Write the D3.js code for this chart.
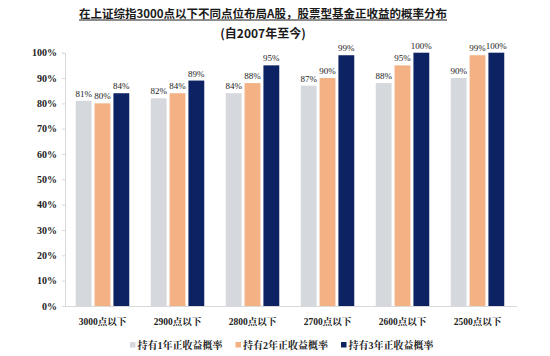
<!DOCTYPE html>
<html><head><meta charset="utf-8">
<script src="https://cdn.jsdelivr.net/npm/d3@7"></script>
<style>
html,body{margin:0;padding:0;background:#fff;}
svg{display:block;}
</style>
</head><body>
<svg id="chart" width="550" height="356"></svg>
<script>
const categories = ["3000点以下","2900点以下","2800点以下","2700点以下","2600点以下","2500点以下"];
const seriesNames = ["持有1年正收益概率","持有2年正收益概率","持有3年正收益概率"];
const hold1 = [81, 82, 84, 87, 88, 90];
const hold2 = [80, 84, 88, 90, 95, 99];
const hold3 = [84, 89, 95, 99, 100, 100];
const yTicks = [0,10,20,30,40,50,60,70,80,90,100];
const colors = ["#d5d8dc","#f4b183","#0c2262"];
const title = "在上证综指3000点以下不同点位布局A股，股票型基金正收益的概率分布";
const subtitle = "(自2007年至今)";

const series = [hold1, hold2, hold3];
const svg = d3.select("#chart");
const m = {left:65, right:515, top:52.7, bottom:306};

const x0 = d3.scaleBand().domain(categories).range([m.left, m.right]).paddingInner(0).paddingOuter(0);
const x1 = d3.scaleBand().domain(d3.range(3)).range([0, x0.bandwidth()]).paddingInner(0.16).paddingOuter(0.57);
const y = d3.scaleLinear().domain([0,100]).range([m.bottom, m.top]);

const serif = "'Liberation Serif','Times New Roman',serif";
const cjkSerif = "'Liberation Serif','Noto Serif CJK SC','Noto Sans CJK SC',serif";

// title
const t = svg.append("text").attr("x",263).attr("y",18)
  .attr("text-anchor","middle").attr("font-family","'Noto Sans CJK SC',sans-serif")
  .attr("font-weight","bold").attr("font-size",11.5).attr("fill","#1a1a1a").text(title);
const tw = t.node().getComputedTextLength();
svg.append("line").attr("x1",263-tw/2).attr("x2",263+tw/2).attr("y1",20).attr("y2",20)
  .attr("stroke","#1a1a1a").attr("stroke-width",1);
svg.append("text").attr("x",263).attr("y",37.5)
  .attr("text-anchor","middle").attr("font-family","'Noto Sans CJK SC',sans-serif")
  .attr("font-weight","bold").attr("font-size",12).attr("fill","#1a1a1a").text(subtitle);

// y axis
const yAxis = d3.axisLeft(y).tickValues(yTicks).tickFormat(d=>d+"%").tickSize(3).tickPadding(5);
const gy = svg.append("g").attr("transform",`translate(${m.left},0)`).call(yAxis);
gy.select(".domain").attr("stroke","#d9d9d9");
gy.selectAll(".tick line").attr("stroke","#d9d9d9");
gy.selectAll(".tick text").attr("font-family",serif).attr("font-weight","bold")
  .attr("font-size",10).attr("fill","#222");

// x axis
const xAxis = d3.axisBottom(x0).tickSize(0).tickPadding(12);
const gx = svg.append("g").attr("transform",`translate(0,${m.bottom})`).call(xAxis);
gx.select(".domain").attr("stroke","#d9d9d9").attr("d",`M${m.left},0.5H${m.right+2}`);
gx.selectAll(".tick text").attr("font-family",cjkSerif).attr("font-weight","bold")
  .attr("font-size",9.5).attr("fill","#222");

// bars
const groups = svg.append("g").selectAll("g").data(categories).join("g")
  .attr("transform",d=>`translate(${x0(d)},0)`);
groups.each(function(cat, ci){
  const g = d3.select(this);
  series.forEach((s, si)=>{
    g.append("rect").attr("x",x1(si)).attr("width",x1.bandwidth())
      .attr("y",y(s[ci])).attr("height",y(0)-y(s[ci])).attr("fill",colors[si]);
    g.append("text").attr("x",x1(si)+x1.bandwidth()/2).attr("y",y(s[ci])-4)
      .attr("text-anchor","middle").attr("font-family",serif).attr("font-size",9)
      .attr("fill","#222").text(Math.round(s[ci])+"%");
  });
});

// legend
const legX = [130, 235.5, 341];
seriesNames.forEach((n,i)=>{
  svg.append("rect").attr("x",legX[i]).attr("y",342).attr("width",5.5).attr("height",5.5).attr("fill",colors[i]);
  svg.append("text").attr("x",legX[i]+7.5).attr("y",348.5).attr("font-family",cjkSerif)
    .attr("font-weight","bold").attr("font-size",10).attr("fill","#222").text(n);
});
</script>
</body></html>
